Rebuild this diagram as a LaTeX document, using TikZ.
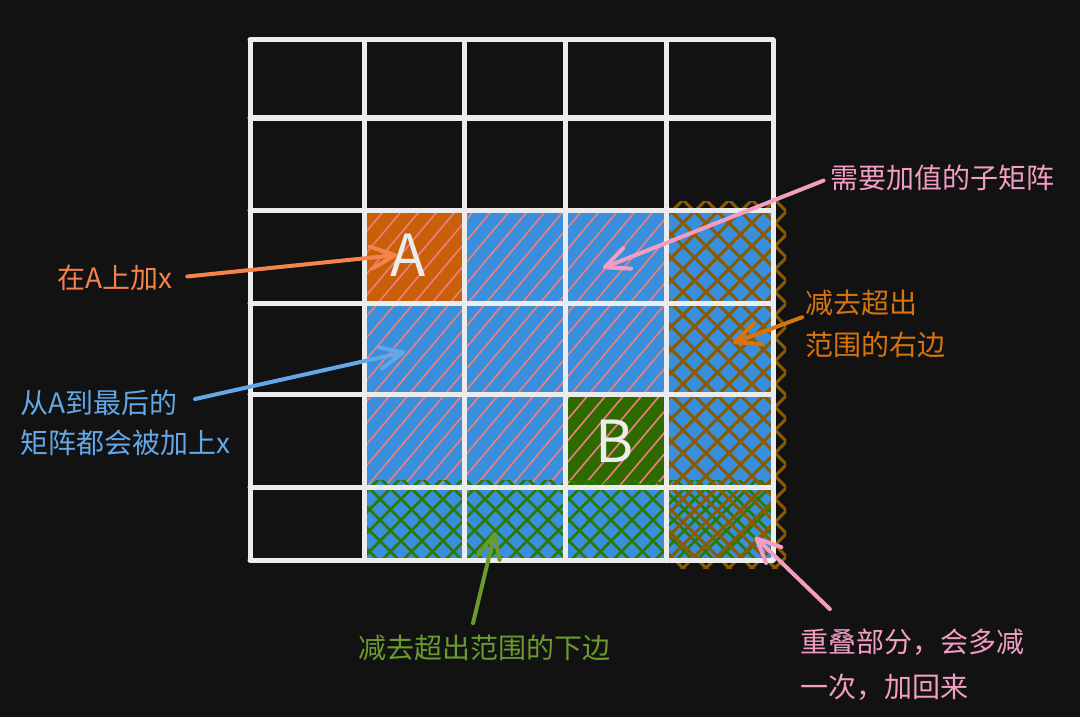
\documentclass[tikz,border=0pt]{standalone}
\usepackage{fontspec}
\newfontfamily\cjk{Noto Sans CJK SC}
\usetikzlibrary{arrows.meta}
\definecolor{bgdark}{HTML}{121212}
\definecolor{gridwhite}{HTML}{ECECEC}
\definecolor{cellblue}{HTML}{398FDC}
\definecolor{cellorange}{HTML}{C95F08}
\definecolor{cellgreen}{HTML}{2F6A00}
\definecolor{hatchpink}{HTML}{EE7F7F}
\definecolor{hatchbrown}{HTML}{8A5A00}
\definecolor{hatchgreen}{HTML}{2E7800}
\definecolor{notecoral}{HTML}{F6834B}
\definecolor{noteblue}{HTML}{64A7E6}
\definecolor{notepink}{HTML}{F49DC3}
\definecolor{noteorange}{HTML}{D6740F}
\definecolor{notegreen}{HTML}{6A9B2C}
\tikzset{
  note/.style={font=\cjk\fontsize{28}{42}\selectfont, inner sep=0pt, anchor=west},
  pointer/.style={line width=4pt, line cap=round, line join=round,
    -{Straight Barb[length=24pt,width=22pt,round]}},
  gridline/.style={draw=gridwhite, line width=5pt, line cap=round},
  letter/.style={font=\cjk\fontsize{58}{60}\selectfont, text=gridwhite, inner sep=0pt},
}
\begin{document}
\begin{tikzpicture}[x=1pt,y=-1pt]
\useasboundingbox (0,0) rectangle (1080,717);
\fill[bgdark] (0,0) rectangle (1080,717);
% cells
\fill[cellblue] (364,210) rectangle (773,560);
\fill[cellorange] (364,210) rectangle (464,303);
\fill[cellgreen] (565,394) rectangle (666,487);
% hatching
\begin{scope}
\clip (364,210) rectangle (666,487);
\foreach \x in {112,130,...,680} \draw[hatchpink, line width=1.6pt] (\x,490) -- ++(245,-290);
\end{scope}
\begin{scope}
\clip (364,480) rectangle (773,560);
\foreach \x in {272,293,...,780} \draw[hatchgreen, line width=2.6pt] (\x,565) -- ++(90,-90);
\foreach \x in {272,293,...,780} \draw[hatchgreen, line width=2.6pt] (\x,475) -- ++(90,90);
\end{scope}
\begin{scope}
\clip (666,201) rectangle (786,568);
\foreach \x in {290,313,...,790} \draw[hatchbrown, line width=3pt] (\x,570) -- ++(372,-372);
\foreach \x in {290,313,...,790} \draw[hatchbrown, line width=3pt] (\x,198) -- ++(372,372);
\end{scope}
% grid
\draw[gridline] (250,40) -- (250,560);
\draw[gridline] (364,40) -- (364,560);
\draw[gridline] (464,40) -- (464,560);
\draw[gridline] (565,40) -- (565,560);
\draw[gridline] (666,40) -- (666,560);
\draw[gridline] (773,40) -- (773,560);
\draw[gridline] (250,40) -- (773,40);
\draw[gridline] (250,118) -- (773,118);
\draw[gridline] (250,210) -- (773,210);
\draw[gridline] (250,303) -- (773,303);
\draw[gridline] (250,394) -- (773,394);
\draw[gridline] (250,487) -- (773,487);
\draw[gridline] (250,560) -- (773,560);
\node[letter] (letA) at (408,255) {A};
\node[letter] (letB) at (615,441) {B};
% notes
\node[note, text=notecoral] (lblA) at (57,278) {在A上加x};
\node[note, text=noteblue] (lblAllA) at (20,403) {从A到最后的};
\node[note, text=noteblue] (lblAllB) at (20,443) {矩阵都会被加上x};
\node[note, text=notepink] (lblSub) at (830,178) {需要加值的子矩阵};
\node[note, text=noteorange] (lblRightA) at (805,303) {减去超出};
\node[note, text=noteorange] (lblRightB) at (805,345) {范围的右边};
\node[note, text=notegreen] (lblBottom) at (358,648) {减去超出范围的下边};
\node[note, text=notepink] (lblOverA) at (800,642) {重叠部分，会多减};
\node[note, text=notepink] (lblOverB) at (800,687) {一次，加回来};
\coordinate (tipA) at (397,255);
\coordinate (tipAll) at (405,352);
\coordinate (tipSub) at (603,268);
\coordinate (tipRight) at (733,343);
\coordinate (tipBottom) at (495,532);
\coordinate (tipOver) at (755,537);
\draw[pointer, notecoral, shorten <=15pt] (lblA.east) -- (tipA);
\draw[pointer, noteblue, shorten <=18pt] (lblAllA.east) -- (tipAll);
\draw[pointer, notepink, shorten <=7pt] (lblSub.west) -- (tipSub);
\draw[pointer, noteorange, shorten <=3pt] (lblRightA.south west) -- (tipRight);
\draw[pointer, notegreen, shorten <=12pt] ([xshift=-14pt]lblBottom.north) -- (tipBottom);
\draw[pointer, notepink, shorten <=28pt] ([xshift=50pt]lblOverA.north west) -- (tipOver);
\end{tikzpicture}
\end{document}
